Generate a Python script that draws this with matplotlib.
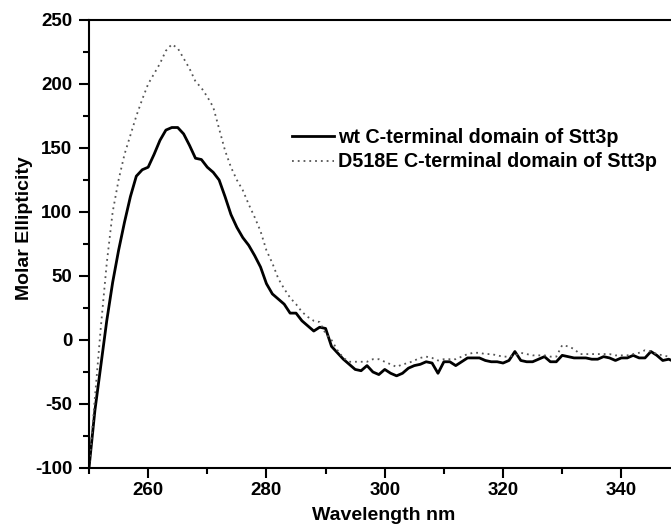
import numpy as np
import matplotlib
matplotlib.use("Agg")
import matplotlib.pyplot as plt
from matplotlib.ticker import MultipleLocator

# wavelength (nm)
wavelength = list(range(250, 351))

# wt C-terminal domain (solid line)
wt = [-100, -55, -20, 15, 45, 70, 92, 112, 128, 133,
      135, 145, 156, 164, 166, 166, 161, 152, 142, 141,
      135, 131, 125, 112, 98, 88, 80, 74, 66, 57,
      44, 36, 32, 28, 21, 21, 15, 11, 7, 10,
      9, -5, -10, -15, -19, -23, -24, -20, -25, -27,
      -23, -26, -28, -26, -22, -20, -19, -17, -18, -26,
      -17, -17, -20, -17, -14, -14, -14, -16, -17, -17,
      -18, -16, -9, -16, -17, -17, -15, -13, -17, -17,
      -12, -13, -14, -14, -14, -15, -15, -13, -14, -16,
      -14, -14, -12, -14, -14, -9, -12, -16, -15, -17,
      -16]

# D518E mutant (dotted line)
d518e = [-100, -45, 10, 60, 100, 125, 145, 160, 175, 188,
         200, 208, 216, 226, 231, 228, 220, 212, 202, 197,
         190, 182, 165, 148, 135, 125, 117, 106, 96, 85,
         70, 60, 48, 40, 33, 28, 22, 18, 15, 14,
         5, 0, -8, -14, -17, -17, -17, -17, -15, -15,
         -17, -19, -21, -19, -18, -16, -14, -13, -14, -16,
         -15, -15, -15, -13, -11, -10, -10, -11, -11, -12,
         -13, -13, -12, -10, -11, -12, -12, -12, -13, -13,
         -4, -5, -7, -11, -11, -11, -11, -11, -11, -12,
         -12, -12, -11, -10, -8, -9, -11, -12, -13, -13,
         -13]

plt.rcParams['font.family'] = ['Liberation Sans', 'DejaVu Sans']
plt.rcParams['font.weight'] = 'bold'
plt.rcParams['axes.unicode_minus'] = False

fig = plt.figure(figsize=(6.71, 5.31), dpi=100)
# axes run past the right edge (original figure is cropped there)
ax = fig.add_axes([89 / 671, 63 / 531, 591.5 / 671, 448 / 531])

ax.plot(wavelength, wt, color='black', lw=2, label='wt C-terminal domain of Stt3p')
ax.plot(wavelength, d518e, color='#555555', lw=1.3, linestyle=(0, (1, 2.2)),
        label='D518E C-terminal domain of Stt3p')

ax.set_xlim(250, 350)
ax.set_ylim(-100, 250)
ax.xaxis.set_major_locator(MultipleLocator(20))
ax.xaxis.set_minor_locator(MultipleLocator(10))
ax.yaxis.set_major_locator(MultipleLocator(50))
ax.yaxis.set_minor_locator(MultipleLocator(25))
ax.set_xticks([260, 280, 300, 320, 340])
ax.tick_params(which='both', direction='out', width=1.5, labelsize=13.5)
ax.tick_params(which='major', length=7)
ax.tick_params(which='minor', length=4.5)
ax.tick_params(axis='x', pad=3)
ax.tick_params(axis='y', pad=5)
for s in ax.spines.values():
    s.set_linewidth(1.5)

ax.set_xlabel('Wavelength nm', fontsize=14, fontweight='bold')
ax.set_ylabel('Molar Ellipticity', fontsize=14, fontweight='bold')
ax.xaxis.set_label_coords(0.499, -0.087)
ax.yaxis.set_label_coords(-0.095, 0.536)

ax.legend(loc='upper left', bbox_to_anchor=(0.343, 0.76), frameon=False,
          fontsize=14.2, handlelength=2.15, handletextpad=0.2, labelspacing=0.3,
          borderaxespad=0, borderpad=0)

fig.savefig('out.png', dpi=100)
